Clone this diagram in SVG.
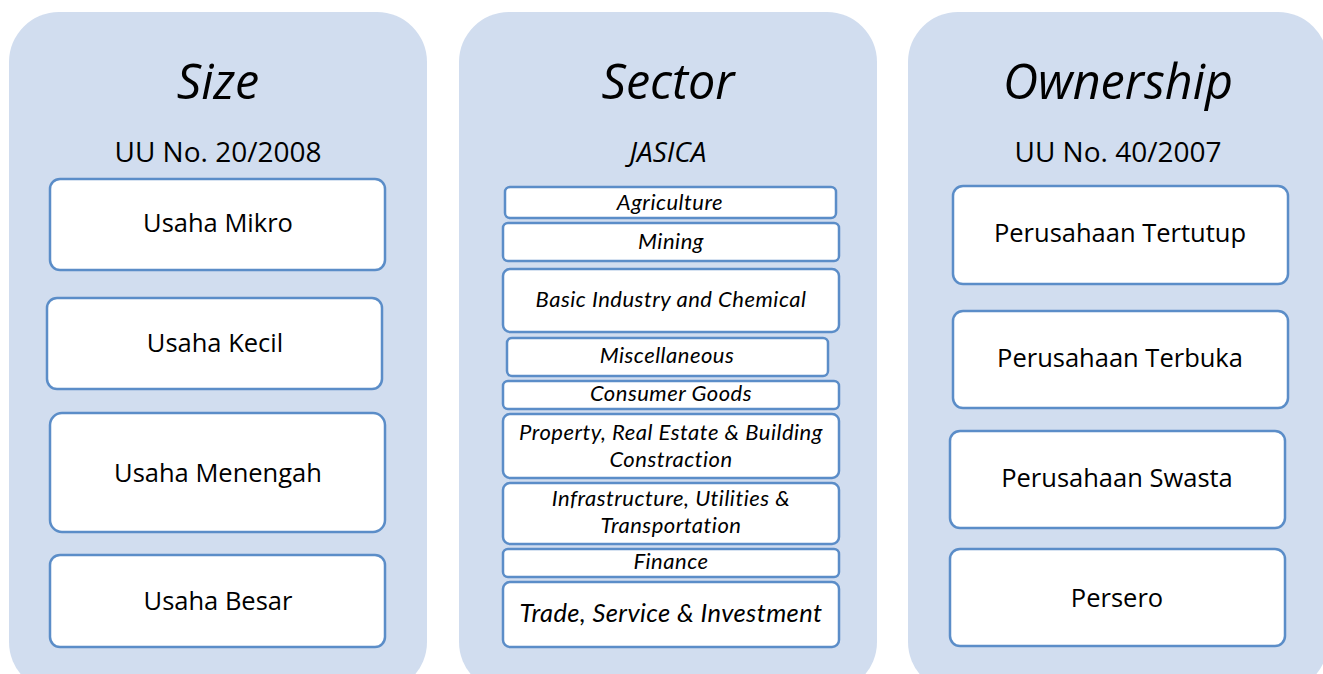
<svg xmlns="http://www.w3.org/2000/svg" width="1323" height="674" viewBox="0 0 1323 674">
  <style>
    .panel { fill: #D1DDEF; }
    .box { fill: #FFFFFF; stroke: #5B8DC8; stroke-width: 2.5; }
    text { font-family: "Open Sans", "Noto Sans", sans-serif; fill: #000000; text-anchor: middle; }
    .title { font-size: 48.5px; font-style: italic; }
    .sub { font-size: 28px; }
    .subi { font-size: 28px; font-style: italic; }
    .item { font-size: 25.5px; }
    .sec { font-family: Lato, "Open Sans", sans-serif; font-size: 22px; font-style: italic; letter-spacing: 0.5px; }
    .secl { font-family: Lato, "Open Sans", sans-serif; font-size: 25.5px; font-style: italic; letter-spacing: 0.4px; }
  </style>
  <rect width="1323" height="674" fill="#FFFFFF"/>

  <!-- Size column -->
  <g id="col-size">
    <rect class="panel" x="9" y="12" width="418" height="680" rx="50"/>
    <text class="title" x="218" y="99">Size</text>
    <text class="sub" x="218" y="162">UU No. 20/2008</text>
  </g>
  <g id="usaha-mikro"><rect class="box" x="50" y="179" width="335" height="91" rx="10"/><text class="item" x="218" y="232">Usaha Mikro</text></g>
  <g id="usaha-kecil"><rect class="box" x="47" y="298" width="335" height="91" rx="10"/><text class="item" x="215" y="352">Usaha Kecil</text></g>
  <g id="usaha-menengah"><rect class="box" x="50" y="413" width="335" height="119" rx="12"/><text class="item" x="218" y="482">Usaha Menengah</text></g>
  <g id="usaha-besar"><rect class="box" x="50" y="555" width="335" height="92" rx="10"/><text class="item" x="218" y="610">Usaha Besar</text></g>

  <!-- Sector column -->
  <g id="col-sector">
    <rect class="panel" x="459" y="12" width="418" height="680" rx="50"/>
    <text class="title" x="668" y="99">Sector</text>
    <text class="subi" x="668" y="162">JASICA</text>
  </g>
  <g id="agriculture"><rect class="box" x="505" y="187" width="331" height="31" rx="5"/><text class="sec" x="670" y="210">Agriculture</text></g>
  <g id="mining"><rect class="box" x="503" y="223" width="336" height="38" rx="5"/><text class="sec" x="671" y="249">Mining</text></g>
  <g id="basic-industry"><rect class="box" x="503" y="269" width="336" height="63" rx="7"/><text class="sec" x="671" y="307">Basic Industry and Chemical</text></g>
  <g id="miscellaneous"><rect class="box" x="507" y="338" width="321" height="38" rx="5"/><text class="sec" x="667" y="363">Miscellaneous</text></g>
  <g id="consumer-goods"><rect class="box" x="503" y="381" width="336" height="28" rx="5"/><text class="sec" x="671" y="401">Consumer Goods</text></g>
  <g id="property"><rect class="box" x="503" y="414" width="336" height="64" rx="7"/><text class="sec" x="671" y="440">Property, Real Estate &amp; Building</text><text class="sec" x="671" y="467">Constraction</text></g>
  <g id="infrastructure"><rect class="box" x="503" y="483" width="336" height="61" rx="7"/><text class="sec" x="671" y="506">Infrastructure, Utilities &amp;</text><text class="sec" x="671" y="533">Transportation</text></g>
  <g id="finance"><rect class="box" x="503" y="549" width="336" height="28" rx="5"/><text class="sec" x="671" y="569">Finance</text></g>
  <g id="trade"><rect class="box" x="503" y="582" width="336" height="65" rx="7"/><text class="secl" x="671" y="622">Trade, Service &amp; Investment</text></g>

  <!-- Ownership column -->
  <g id="col-ownership">
    <rect class="panel" x="908" y="12" width="420" height="680" rx="50"/>
    <text class="title" x="1118" y="99">Ownership</text>
    <text class="sub" x="1118" y="162">UU No. 40/2007</text>
  </g>
  <g id="tertutup"><rect class="box" x="953" y="186" width="335" height="98" rx="10"/><text class="item" x="1120" y="242">Perusahaan Tertutup</text></g>
  <g id="terbuka"><rect class="box" x="953" y="311" width="335" height="97" rx="10"/><text class="item" x="1120" y="367">Perusahaan Terbuka</text></g>
  <g id="swasta"><rect class="box" x="950" y="431" width="335" height="97" rx="10"/><text class="item" x="1117" y="487">Perusahaan Swasta</text></g>
  <g id="persero"><rect class="box" x="950" y="549" width="335" height="97" rx="10"/><text class="item" x="1117" y="607">Persero</text></g>

  <g id="connectors"></g>
</svg>
